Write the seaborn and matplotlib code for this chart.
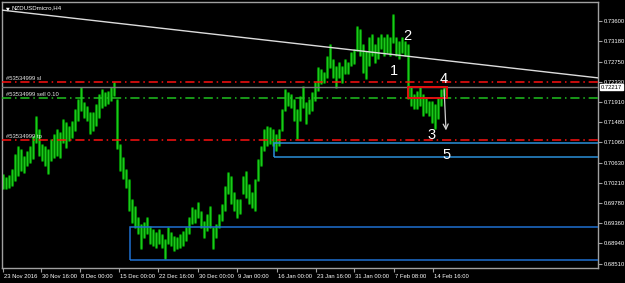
import numpy as np
import pandas as pd
import matplotlib
matplotlib.use("Agg")
import matplotlib.pyplot as plt
import matplotlib.transforms as mtransforms
from matplotlib.patches import Rectangle
import seaborn as sns

# ---------------- data ----------------
symbol = "NZDUSDmicro,H4"
order_id = "#53534999"

highs = [0.7037, 0.7031, 0.7035, 0.7048, 0.7079, 0.7096, 0.7090, 0.7075, 0.7086, 0.7096,
         0.7117, 0.7159, 0.7132, 0.7100, 0.7096, 0.7090, 0.7111, 0.7121, 0.7132, 0.7125,
         0.7153, 0.7146, 0.7138, 0.7148, 0.7174, 0.7194, 0.7220, 0.7188, 0.7180, 0.7167,
         0.7167, 0.7184, 0.7205, 0.7215, 0.7209, 0.7211, 0.7220, 0.7230, 0.7194, 0.7100,
         0.7073, 0.7048, 0.7027, 0.6985, 0.6970, 0.6947, 0.6933, 0.6937, 0.6947, 0.6928,
         0.6922, 0.6916, 0.6922, 0.6912, 0.6901, 0.6926, 0.6916, 0.6907, 0.6905, 0.6912,
         0.6918, 0.6926, 0.6947, 0.6968, 0.6964, 0.6979, 0.6960, 0.6939, 0.6954, 0.6970,
         0.6926, 0.6933, 0.6954, 0.6975, 0.7012, 0.7042, 0.7033, 0.7000, 0.6985, 0.6985,
         0.7033, 0.7044, 0.7016, 0.7000, 0.7027, 0.7069, 0.7096, 0.7132, 0.7138, 0.7136,
         0.7132, 0.7121, 0.7132, 0.7174, 0.7215, 0.7209, 0.7205, 0.7194, 0.7174, 0.7201,
         0.7222, 0.7188, 0.7194, 0.7209, 0.7230, 0.7262, 0.7257, 0.7251, 0.7285, 0.7310,
         0.7278, 0.7264, 0.7272, 0.7264, 0.7278, 0.7272, 0.7293, 0.7299, 0.7347, 0.7341,
         0.7310, 0.7295, 0.7324, 0.7331, 0.7310, 0.7324, 0.7331, 0.7324, 0.7331, 0.7324,
         0.7373, 0.7324, 0.7316, 0.7324, 0.7316, 0.7310, 0.7220, 0.7205, 0.7211, 0.7220,
         0.7205, 0.7199, 0.7190, 0.7190, 0.7184, 0.7199, 0.7215, 0.7222]
lows = [0.7010, 0.7010, 0.7012, 0.7016, 0.7027, 0.7037, 0.7048, 0.7044, 0.7058, 0.7065,
        0.7073, 0.7107, 0.7079, 0.7069, 0.7058, 0.7042, 0.7069, 0.7075, 0.7079, 0.7075,
        0.7107, 0.7096, 0.7111, 0.7117, 0.7132, 0.7153, 0.7174, 0.7159, 0.7153, 0.7125,
        0.7132, 0.7142, 0.7159, 0.7180, 0.7184, 0.7188, 0.7194, 0.7205, 0.7094, 0.7048,
        0.7031, 0.7012, 0.6964, 0.6939, 0.6928, 0.6916, 0.6884, 0.6907, 0.6916, 0.6895,
        0.6891, 0.6887, 0.6895, 0.6887, 0.6863, 0.6895, 0.6891, 0.6880, 0.6884, 0.6887,
        0.6891, 0.6901, 0.6916, 0.6937, 0.6939, 0.6949, 0.6928, 0.6907, 0.6922, 0.6928,
        0.6884, 0.6907, 0.6928, 0.6943, 0.6964, 0.7000, 0.6979, 0.6964, 0.6949, 0.6958,
        0.7000, 0.6991, 0.6979, 0.6970, 0.6964, 0.7027, 0.7058, 0.7090, 0.7100, 0.7104,
        0.7100, 0.7090, 0.7100, 0.7132, 0.7174, 0.7184, 0.7180, 0.7153, 0.7115, 0.7153,
        0.7180, 0.7146, 0.7167, 0.7174, 0.7194, 0.7215, 0.7230, 0.7232, 0.7243, 0.7264,
        0.7243, 0.7222, 0.7243, 0.7232, 0.7251, 0.7251, 0.7268, 0.7272, 0.7299, 0.7289,
        0.7253, 0.7241, 0.7268, 0.7289, 0.7274, 0.7282, 0.7303, 0.7289, 0.7295, 0.7289,
        0.7316, 0.7289, 0.7282, 0.7295, 0.7289, 0.7199, 0.7184, 0.7178, 0.7178, 0.7184,
        0.7163, 0.7169, 0.7163, 0.7148, 0.7136, 0.7157, 0.7184, 0.7205]

time_labels = ["23 Nov 2016", "30 Nov 16:00", "8 Dec 00:00", "15 Dec 00:00",
               "22 Dec 16:00", "30 Dec 00:00", "9 Jan 00:00", "16 Jan 00:00",
               "23 Jan 16:00", "31 Jan 00:00", "7 Feb 08:00", "14 Feb 16:00"]
time_label_bars = [0, 12.7, 25.7, 38.7, 51.7, 65, 78, 91.3, 104.3, 117, 130.3, 143.3]

price_ticks = [0.73600, 0.73180, 0.72750, 0.72330, 0.71910, 0.71480, 0.71060,
               0.70630, 0.70210, 0.69780, 0.69360, 0.68940, 0.68510]
bid_price = 0.72217
sl_price = 0.7233
entry_price = 0.7198
tp_price = 0.7110

trend_bars = [-0.33, 198.3]
trend_prices = [0.7383, 0.7241]

low_zone = {"left": 42.3, "bottom": 0.6859, "top": 0.6928}
mid_zone = {"left": 90.3, "bottom": 0.7076, "top": 0.7104}
red_box = {"left": 135.0, "right": 148.0, "bottom": 0.7199, "top": 0.7222}
arrow_bars = [147.0, 147.7]
arrow_prices = [0.7222, 0.7125]

wave_labels = ["1", "2", "3", "4", "5"]
wave_bars = [130.3, 134.7, 142.7, 147.0, 148.0]
wave_prices = [0.7255, 0.7329, 0.7121, 0.7238, 0.7079]

# ---------------- figure ----------------
sns.set_theme(style="dark")
plt.rcParams["font.family"] = ["Liberation Sans", "DejaVu Sans"]

W, H = 625, 283
fig = plt.figure(figsize=(W / 100, H / 100), dpi=100, facecolor="black")
ax = fig.add_axes([2 / W, 1 - 268 / H, (598 - 2) / W, (268 - 2) / H])
ax.set_facecolor("black")

n = len(highs)
bars = pd.DataFrame({
    "bar": np.repeat(np.arange(n), 2),
    "price": np.ravel(np.column_stack([highs, lows])),
})
sns.lineplot(data=bars, x="bar", y="price", units="bar", estimator=None,
             color="#007d00", lw=2.2, ax=ax, legend=False)
sns.lineplot(data=bars, x="bar", y="price", units="bar", estimator=None,
             color="#1cc81c", lw=0.9, ax=ax, legend=False)

ax.set_xlim(-0.333, 198.33)
ax.set_ylim(0.68425, 0.7400)

# trend line
ax.plot(trend_bars, trend_prices, color="#dcdcdc", lw=1.0, zorder=4)

# order lines
dashdot = (0, (6, 2.5, 1, 2.5))
ax.axhline(sl_price, color="#ff1010", lw=1.1, ls=dashdot, zorder=3)
ax.axhline(bid_price, color="#7a7a7a", lw=1.0, zorder=3)
ax.axhline(entry_price, color="#1fc01f", lw=1.1, ls=dashdot, zorder=3)
ax.axhline(tp_price, color="#ff1010", lw=1.1, ls=dashdot, zorder=3)

txt_kw = dict(color="#e6e6e6", fontsize=4.2, ha="left", va="bottom", zorder=6)
ax.text(1.0, sl_price + 0.0002, f"{order_id} sl", **txt_kw)
ax.text(1.0, entry_price + 0.0002, f"{order_id} sell 0.10", **txt_kw)
ax.text(1.0, tp_price + 0.0002, f"{order_id} tp", **txt_kw)

# rectangles
ax.add_patch(Rectangle((low_zone["left"], low_zone["bottom"]), 300,
                       low_zone["top"] - low_zone["bottom"], fill=False,
                       edgecolor="#1f6fd0", lw=1.1, zorder=3))
ax.add_patch(Rectangle((mid_zone["left"], mid_zone["bottom"]), 300,
                       mid_zone["top"] - mid_zone["bottom"], fill=False,
                       edgecolor="#2a8fd8", lw=1.1, zorder=3))
ax.add_patch(Rectangle((red_box["left"], red_box["bottom"]),
                       red_box["right"] - red_box["left"],
                       red_box["top"] - red_box["bottom"], fill=False,
                       edgecolor="#e01010", lw=1.4, zorder=5))

# arrow
ax.annotate("", xy=(arrow_bars[1], arrow_prices[1]), xytext=(arrow_bars[0], arrow_prices[0]),
            arrowprops=dict(arrowstyle="->", color="#d0d0d0", lw=0.9,
                            mutation_scale=9), zorder=6)

for lab, b, p in zip(wave_labels, wave_bars, wave_prices):
    ax.text(b, p, lab, color="white", fontsize=10.5, ha="center", va="center", zorder=7)

# title
ax.text(0.006, 0.985, "\u25BC", transform=ax.transAxes, color="white", fontsize=3.5,
        ha="left", va="top", family=["DejaVu Sans"])
ax.text(0.016, 0.988, symbol, transform=ax.transAxes, color="white", fontsize=4.4,
        ha="left", va="top")

# axes styling
for s in ax.spines.values():
    s.set_color("#a0a0a0")
    s.set_linewidth(1.0)
ax.grid(False)
ax.set_xlabel("")
ax.set_ylabel("")

ax.yaxis.tick_right()
ax.set_yticks(price_ticks)
ax.set_yticklabels([f"{v:.5f}" for v in price_ticks])
ax.tick_params(axis="y", colors="#a0a0a0", labelcolor="white", labelsize=4.2,
               length=3, width=0.8, pad=1.5, direction="out", right=True, left=False)

ax.set_xticks(time_label_bars)
ax.set_xticklabels(time_labels)
ax.tick_params(axis="x", colors="#a0a0a0", labelcolor="white", labelsize=4.2,
               length=3, width=0.8, pad=1.5, direction="out", bottom=True)
off = mtransforms.ScaledTranslation(1 / 100, 0, fig.dpi_scale_trans)
for lbl in ax.get_xticklabels():
    lbl.set_horizontalalignment("left")
    lbl.set_transform(lbl.get_transform() + off)

# current price tag
ax.text(1.004, bid_price, f"{bid_price:.5f}", transform=ax.get_yaxis_transform(),
        color="black", fontsize=4.2, ha="left", va="center", zorder=8, clip_on=False,
        bbox=dict(boxstyle="square,pad=0.15", facecolor="white", edgecolor="white"))

fig.savefig("out.png", dpi=100, facecolor="black")
